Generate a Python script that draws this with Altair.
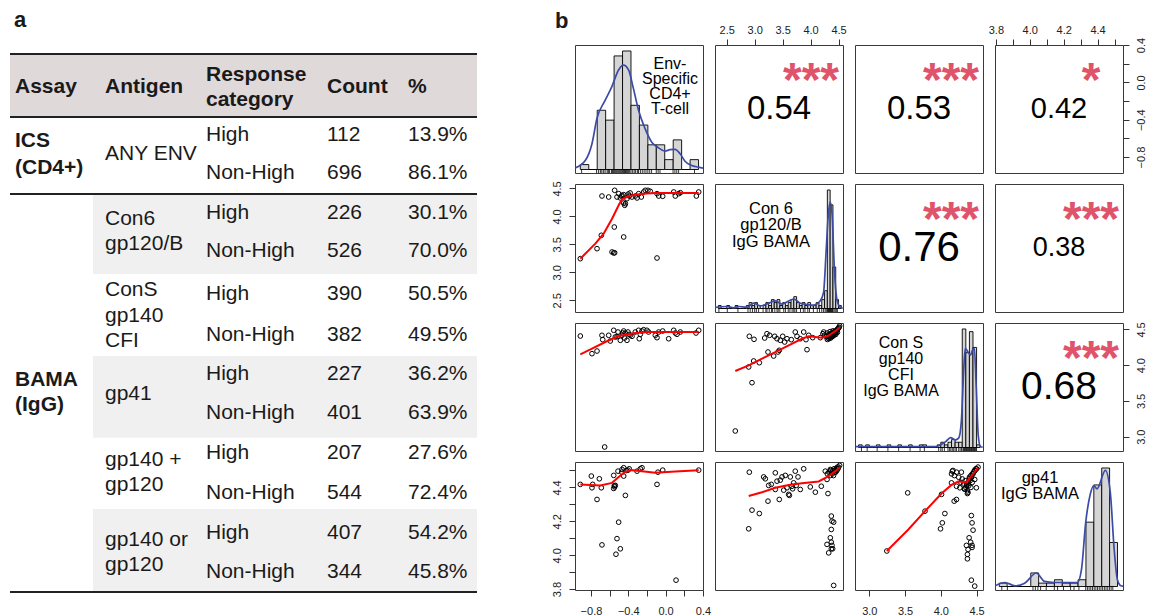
import altair as alt
import pandas as pd

FONT = "Liberation Sans"
INK = "#1a1a1a"
STAR = "#DF536B"
BLUE = "#3B4BA6"
BAR = "#D5D5D5"
FRAME = "#3a3a3a"

# ======================= panel a : table data =======================
header_lines = [["Assay"], ["Antigen"], ["Response", "category"], ["Count"], ["%"]]
assay_lines = [["ICS", "(CD4+)"], ["BAMA", "(IgG)"]]
antigen_lines = [["ANY ENV"], ["Con6", "gp120/B"], ["ConS", "gp140", "CFI"],
                 ["gp41"], ["gp140 +", "gp120"], ["gp140 or", "gp120"]]
response = ["High", "Non-High"] * 6
counts = [112, 696, 226, 526, 390, 382, 227, 401, 207, 544, 407, 344]
percents = ["13.9%", "86.1%", "30.1%", "70.0%", "50.5%", "49.5%",
            "36.2%", "63.9%", "27.6%", "72.4%", "54.2%", "45.8%"]
shaded = [False, True, False, True, False, True]

# ======================= panel b : pairs data =======================
diag_labels = [["Env-", "Specific", "CD4+", "T-cell"],
               ["Con 6", "gp120/B", "IgG BAMA"],
               ["Con S", "gp140", "CFI", "IgG BAMA"],
               ["gp41", "IgG BAMA"]]
cor_values = ["0.54", "0.53", "0.42", "0.76", "0.38", "0.68"]
cor_stars = ["***", "***", "*", "***", "***", "***"]

# histograms: bin start, bin width, counts
h1_start, h1_width = -0.914, 0.0905
h1_counts = [1, 0, 12, 10, 23, 24, 13, 9, 5, 5, 2, 6, 0, 2]
h2_start, h2_width = 2.35, 0.05
h2_counts = [1, 0, 0, 1, 0, 0, 1, 0, 0, 0, 1, 2, 1, 2, 1, 0, 1, 2, 1, 3, 2, 3,
             1, 2, 1, 2, 3, 4, 2, 1, 2, 1, 2, 1, 1, 2, 1, 3, 6, 40, 35, 14, 3, 1]
h3_start, h3_width = 2.85, 0.05
h3_counts = [1, 0, 1, 0, 0, 1, 0, 0, 1, 0, 0, 1, 0, 0, 1, 0, 0, 1, 1, 0, 0, 0,
             1, 2, 1, 2, 3, 2, 2, 45, 36, 44, 38, 1]
h4_start, h4_width = 3.82, 0.0465
h4_counts = [1, 0, 0, 0, 4, 1, 1, 2, 1, 1, 2, 19, 30, 35, 13]

# density curves (height relative to tallest bar)
d1_x = [-0.968, -0.861, -0.789, -0.736, -0.647, -0.576, -0.504, -0.451, -0.397, -0.344, -0.290,
        -0.220, -0.148, -0.077, -0.006, 0.048, 0.101, 0.155, 0.208, 0.280, 0.351, 0.401]
d1_y = [0.014, 0.076, 0.218, 0.43, 0.585, 0.70, 0.84, 0.88, 0.84, 0.68, 0.50,
        0.345, 0.23, 0.184, 0.155, 0.167, 0.17, 0.133, 0.07, 0.034, 0.02, 0.011]
d2_x = [2.29, 2.506, 2.625, 2.714, 2.863, 2.982, 3.101, 3.25, 3.369, 3.488, 3.696, 3.815,
        3.935, 4.054, 4.173, 4.232, 4.28, 4.315, 4.351, 4.387, 4.423, 4.47, 4.53, 4.575]
d2_y = [0.01, 0.017, 0.006, 0.017, 0.01, 0.045, 0.022, 0.045, 0.065, 0.037, 0.08, 0.045,
        0.034, 0.028, 0.065, 0.135, 0.5, 0.78, 0.90, 0.78, 0.36, 0.08, 0.01, 0.003]
d3_x = [2.809, 3.25, 3.705, 3.932, 3.977, 4.068, 4.136, 4.205, 4.25, 4.287, 4.319, 4.342,
        4.387, 4.415, 4.442, 4.469, 4.496, 4.523, 4.555, 4.585]
d3_y = [0.008, 0.008, 0.008, 0.008, 0.017, 0.05, 0.084, 0.065, 0.079, 0.22, 0.64, 0.837,
        0.80, 0.78, 0.82, 0.837, 0.50, 0.107, 0.006, 0.003]
d4_x = [3.796, 3.854, 3.913, 3.97, 4.039, 4.087, 4.145, 4.223, 4.281, 4.305, 4.33, 4.355,
        4.378, 4.397, 4.446, 4.475, 4.498, 4.517, 4.538, 4.55]
d4_y = [0.006, 0.034, 0.006, 0.028, 0.114, 0.043, 0.034, 0.034, 0.034, 0.142, 0.54, 0.767,
        0.852, 0.824, 0.98, 0.795, 0.312, 0.057, 0.006, 0.003]

# rugs
rug1 = [-0.90, -0.74, -0.72, -0.70, -0.69, -0.67, -0.66, -0.64, -0.62, -0.61, -0.60, -0.58,
        -0.57, -0.56, -0.55, -0.54, -0.53, -0.52, -0.51, -0.50, -0.49, -0.48, -0.47, -0.46,
        -0.45, -0.44, -0.43, -0.42, -0.41, -0.40, -0.39, -0.38, -0.36, -0.35, -0.33, -0.32,
        -0.30, -0.29, -0.27, -0.25, -0.23, -0.21, -0.19, -0.17, -0.15, -0.10, -0.08, -0.06,
        0.08, 0.10, 0.12, 0.14, 0.31]
rug2 = [2.36, 2.51, 2.70, 2.88, 2.92, 2.96, 3.00, 3.03, 3.07, 3.15, 3.20, 3.22, 3.26, 3.30,
        3.32, 3.36, 3.40, 3.42, 3.45, 3.52, 3.55, 3.60, 3.63, 3.67, 3.70, 3.72, 3.75, 3.82,
        3.87, 3.90, 3.95, 3.98, 4.05, 4.12, 4.16, 4.20, 4.23, 4.26, 4.28, 4.30, 4.31, 4.32,
        4.33, 4.34, 4.35, 4.36, 4.37, 4.38, 4.39, 4.40, 4.42, 4.44, 4.46, 4.48]
rug3 = [2.89, 2.97, 3.11, 3.26, 3.41, 3.57, 3.71, 3.77, 3.97, 4.00, 4.02, 4.05, 4.10, 4.12,
        4.14, 4.16, 4.18, 4.20, 4.22, 4.25, 4.27, 4.29, 4.31, 4.32, 4.33, 4.34, 4.35, 4.36,
        4.37, 4.38, 4.39, 4.40, 4.41, 4.42, 4.43, 4.44, 4.45, 4.46, 4.47, 4.48, 4.49, 4.50]
rug4 = [3.835, 3.868, 4.019, 4.033, 4.048, 4.064, 4.097, 4.145, 4.164, 4.199, 4.241, 4.261,
        4.29, 4.33, 4.34, 4.35, 4.36, 4.37, 4.38, 4.39, 4.40, 4.41, 4.42, 4.43, 4.44, 4.45,
        4.46, 4.47, 4.48, 4.49]

# scatter panels (x = column variable, y = row variable) and red smoothers
s21_x = [-0.914, -0.735, -0.682, -0.689, -0.610, -0.574, -0.556, -0.546, -0.550, -0.546, -0.521,
         -0.503, -0.485, -0.467, -0.449, -0.449, -0.438, -0.431, -0.414, -0.389, -0.360, -0.325,
         -0.306, -0.289, -0.260, -0.235, -0.218, -0.189, -0.164, -0.092, -0.074, -0.092, -0.031,
         0.087, 0.104, 0.140, 0.158, 0.330, 0.355, -0.45, -0.40, -0.38, -0.47]
s21_y = [3.244, 3.423, 4.365, 3.662, 4.347, 3.364, 3.346, 3.350, 3.810, 4.467, 4.347,
         4.407, 4.330, 4.378, 4.389, 3.632, 4.199, 4.228, 4.317, 4.365, 4.347, 4.365,
         4.330, 4.407, 4.347, 4.437, 4.467, 4.467, 4.449, 4.407, 4.365, 3.256, 4.360,
         4.437, 4.365, 4.407, 4.424, 4.365, 4.437, 4.24, 4.40, 4.42, 4.36]
l21_x = [-0.914, -0.753, -0.664, -0.574, -0.503, -0.467, -0.396, -0.253, -0.110, 0.104, 0.355]
l21_y = [3.244, 3.512, 3.691, 3.959, 4.199, 4.306, 4.365, 4.407, 4.419, 4.419, 4.419]

s31_x = [-0.914, -0.789, -0.735, -0.682, -0.674, -0.610, -0.593, -0.556, -0.539, -0.510, -0.485,
         -0.467, -0.449, -0.432, -0.414, -0.403, -0.378, -0.360, -0.325, -0.289, -0.282, -0.271,
         -0.253, -0.235, -0.200, -0.182, -0.110, -0.092, -0.074, -0.031, 0.033, 0.087, 0.104,
         0.122, 0.158, 0.326, 0.355, -0.653, -0.52, -0.46, -0.44, -0.39]
s31_y = [4.408, 4.161, 4.198, 4.418, 4.357, 4.418, 4.338, 4.488, 4.394, 4.464, 4.348,
         4.418, 4.478, 4.450, 4.348, 4.464, 4.418, 4.404, 4.464, 4.488, 4.370, 4.432,
         4.478, 4.496, 4.488, 4.464, 4.418, 4.385, 4.464, 4.478, 4.370, 4.488, 4.450,
         4.432, 4.464, 4.450, 4.488, 2.856, 4.40, 4.45, 4.38, 4.43]
l31_x = [-0.914, -0.789, -0.646, -0.503, -0.325, -0.182, 0.104, 0.355]
l31_y = [4.152, 4.231, 4.324, 4.408, 4.450, 4.464, 4.464, 4.464]

s32_x = [2.653, 2.952, 2.893, 2.982, 3.083, 2.904, 2.988, 3.179, 3.220, 3.268, 3.238, 3.358,
         3.340, 3.417, 3.440, 3.399, 3.458, 3.501, 3.537, 3.578, 3.655, 3.726, 3.757, 3.816,
         3.877, 3.918, 3.936, 3.966, 4.038, 4.174, 4.235,
         4.22, 4.25, 4.28, 4.30, 4.31, 4.32, 4.33, 4.34, 4.35, 4.36, 4.37, 4.38, 4.39, 4.40,
         4.41, 4.42, 4.43, 4.44, 4.45, 4.46, 4.47, 4.48, 4.49, 4.50, 4.51, 4.52, 4.30, 4.33,
         4.36, 4.39, 4.42, 4.45, 4.48, 4.35, 4.40]
s32_y = [3.080, 3.755, 3.975, 4.059, 4.035, 4.404, 4.362, 4.380, 4.440, 4.418, 4.184, 4.404,
         4.128, 4.184, 4.208, 4.370, 4.348, 4.404, 4.324, 4.370, 4.357, 4.464, 4.404, 4.370,
         4.464, 4.357, 4.217, 4.418, 4.385, 4.385, 4.464,
         4.44, 4.42, 4.40, 4.45, 4.38, 4.41, 4.43, 4.39, 4.42, 4.44, 4.40, 4.43, 4.45, 4.41,
         4.46, 4.44, 4.47, 4.45, 4.48, 4.46, 4.49, 4.50, 4.51, 4.52, 4.53, 4.55, 4.36, 4.37,
         4.38, 4.40, 4.42, 4.43, 4.46, 4.47, 4.48]
l32_x = [2.653, 2.893, 3.131, 3.369, 3.608, 3.846, 3.966, 4.204, 4.324, 4.442, 4.532]
l32_y = [3.919, 3.998, 4.091, 4.184, 4.278, 4.370, 4.404, 4.385, 4.413, 4.478, 4.534]

s41_x = [-0.914, -0.796, -0.789, -0.781, -0.735, -0.710, -0.689, -0.682, -0.556, -0.556, -0.546,
         -0.539, -0.532, -0.521, -0.510, -0.503, -0.485, -0.467, -0.449, -0.449, -0.431, -0.403,
         -0.306, -0.271, -0.253, -0.092, -0.082, -0.031, 0.112, 0.355, -0.55, -0.47, -0.42, -0.39]
s41_y = [4.418, 4.467, 4.398, 4.418, 4.329, 4.451, 4.398, 4.061, 4.471, 4.394, 4.403,
         4.412, 4.006, 4.098, 4.496, 4.195, 4.038, 4.506, 4.516, 4.467, 4.353, 4.502,
         4.496, 4.510, 4.516, 4.418, 4.490, 4.502, 3.853, 4.502, 4.41, 4.49, 4.50, 4.51]
l41_x = [-0.914, -0.700, -0.574, -0.503, -0.439, -0.368, -0.253, -0.110, 0.104, 0.355]
l41_y = [4.418, 4.412, 4.427, 4.462, 4.490, 4.502, 4.496, 4.486, 4.494, 4.502]

s42_x = [2.893, 2.904, 2.952, 3.083, 3.161, 3.190, 3.238, 3.250, 3.297, 3.369, 3.369, 3.399,
         3.440, 3.458, 3.489, 3.519, 3.548, 3.578, 3.608, 3.620, 3.637, 3.667, 3.679, 3.697,
         3.726, 3.744, 3.775, 3.816, 3.877, 3.995, 4.085, 4.192, 4.263, 4.294, 4.311, 4.353,
         4.371, 4.383, 4.413, 4.371, 4.353, 4.371, 4.294, 4.383, 4.395, 4.324, 4.413, 4.371,
         4.30, 4.33, 4.36, 4.38, 4.40, 4.42, 4.44, 4.46, 4.48, 4.50, 4.52, 4.35, 4.39, 4.43,
         4.47, 4.41, 4.45, 4.49]
s42_y = [4.156, 4.490, 4.266, 4.246, 4.462, 4.451, 4.319, 4.412, 4.418, 4.486, 4.388, 4.437,
         4.329, 4.443, 4.462, 4.384, 4.471, 4.398, 4.359, 4.353, 4.462, 4.407, 4.392, 4.427,
         4.496, 4.412, 4.462, 4.388, 4.510, 4.403, 4.372, 4.407, 4.496, 4.447, 4.364, 4.506,
         4.231, 4.201, 4.195, 4.152, 4.103, 4.077, 4.064, 4.058, 4.038, 4.014, 3.822, 4.038,
         4.48, 4.49, 4.50, 4.49, 4.50, 4.51, 4.50, 4.51, 4.52, 4.52, 4.53, 4.47, 4.48, 4.49,
         4.50, 4.47, 4.49, 4.51]
l42_x = [2.893, 3.131, 3.369, 3.608, 3.846, 4.145, 4.324, 4.442, 4.532]
l42_y = [4.349, 4.372, 4.398, 4.414, 4.424, 4.435, 4.467, 4.496, 4.521]

s43_x = [3.245, 3.537, 3.779, 4.010, 4.057, 4.021, 3.996, 4.160, 4.187, 4.219, 4.149, 4.219,
         4.266, 4.288, 4.335, 4.372, 4.427, 4.437, 4.451, 4.396, 4.418, 4.358, 4.437, 4.381,
         4.372, 4.437, 4.372, 4.427, 4.474, 4.474, 4.497,
         4.15, 4.17, 4.19, 4.22, 4.25, 4.28, 4.30, 4.32, 4.34, 4.36, 4.38, 4.40, 4.42, 4.44,
         4.46, 4.48, 4.50, 4.52, 4.35, 4.37, 4.39, 4.41, 4.43, 4.45, 4.47, 4.49, 4.33, 4.36,
         4.40, 4.44, 4.38, 4.42]
s43_y = [4.025, 4.368, 4.260, 4.359, 4.246, 4.191, 4.156, 4.496, 4.319, 4.329, 4.427, 4.407,
         4.398, 4.490, 4.392, 4.364, 4.234, 4.191, 4.148, 4.103, 4.077, 4.058, 4.058, 4.034,
         4.005, 4.046, 3.979, 3.853, 3.818, 4.447, 4.398,
         4.48, 4.50, 4.47, 4.49, 4.46, 4.43, 4.45, 4.42, 4.44, 4.41, 4.43, 4.45, 4.47, 4.48,
         4.49, 4.50, 4.51, 4.52, 4.40, 4.38, 4.41, 4.44, 4.46, 4.48, 4.50, 4.51, 4.39, 4.42,
         4.46, 4.43, 4.37, 4.40]
l43_x = [3.245, 3.546, 3.779, 4.010, 4.149, 4.242, 4.358, 4.427, 4.520]
l43_y = [4.025, 4.152, 4.260, 4.364, 4.415, 4.435, 4.431, 4.467, 4.516]

# ======================= layout / style =======================
DOM = {"v1": [-0.971, 0.401], "v2": [2.29, 4.58], "v3": [2.80, 4.59], "v4": [3.795, 4.55]}
TICKS = {"v1": ([-0.8, -0.6, -0.4, -0.2, 0.0, 0.2, 0.4], [-0.8, -0.4, 0.0, 0.4]),
         "v2": ([2.5, 3.0, 3.5, 4.0, 4.5], [2.5, 3.0, 3.5, 4.0, 4.5]),
         "v3": ([3.0, 3.5, 4.0, 4.5], [3.0, 3.5, 4.0, 4.5]),
         "v4": ([3.8, 3.9, 4.0, 4.1, 4.2, 4.3, 4.4, 4.5], [3.8, 4.0, 4.2, 4.4])}
PW = PH = 128
HEAD_H = 24
HIST_DOM = [-0.0295, 1.0506]
COR_SIZE = [33, 33, 29, 42, 27, 39]
# (centre x, first baseline, line step, font size) for each diagonal label
LABEL_POS = [(95, 23.5, 15, 16), (56, 29.5, 16.7, 16.5), (46, 24.5, 16.2, 16), (45, 20.5, 16.7, 16.5)]
PANEL_VIEW = alt.ViewBackground(stroke=FRAME, strokeWidth=1)
NO_VIEW = alt.ViewBackground(stroke="transparent")


def lin(dom):
    return alt.Scale(domain=dom, nice=False, zero=False)


def make_axis(var, orient):
    ticks, labels = TICKS[var]
    keys = [int(round(v * 100)) for v in labels]
    expr = f"indexof({keys}, round(datum.value * 100)) >= 0 ? format(datum.value, '.1f') : ''"
    kw = dict(orient=orient, values=ticks, labelExpr=expr, tickSize=6, tickColor="#333",
              tickWidth=1, domain=False, grid=False, labelFontSize=11, labelColor="#222",
              labelFlush=False, labelOverlap=False, title=None)
    if orient == "top":
        kw.update(labelAngle=0, labelPadding=4)
    elif orient == "bottom":
        kw.update(labelAngle=0, labelPadding=9)
    elif orient == "left":
        kw.update(labelAngle=270, labelAlign="center", labelBaseline="bottom", labelPadding=7)
    else:
        kw.update(labelAngle=270, labelAlign="center", labelBaseline="top", labelPadding=6)
    return alt.Axis(**kw)


def panel(layers):
    return alt.layer(*layers).properties(width=PW, height=PH, view=PANEL_VIEW)


def scatter(xs, ys, lx, ly, xv, yv, xaxis=None, yaxis=None):
    ex = alt.X("x:Q", scale=lin(DOM[xv]), axis=xaxis, title=None)
    ey = alt.Y("y:Q", scale=lin(DOM[yv]), axis=yaxis, title=None)
    pts = alt.Chart(pd.DataFrame({"x": xs, "y": ys})).mark_point(
        shape="circle", filled=False, size=22, strokeWidth=1.0, color="black", opacity=1
    ).encode(x=ex, y=ey)
    fit = alt.Chart(pd.DataFrame({"x": lx, "y": ly})).mark_line(
        color="red", strokeWidth=2
    ).encode(x=ex, y=ey)
    return panel([pts, fit])


def diag(k, var, start, width, cnts, dx, dy, rug):
    mx = max(cnts)
    bars = pd.DataFrame({"x0": [start + i * width for i in range(len(cnts))],
                         "x1": [start + (i + 1) * width for i in range(len(cnts))],
                         "h": [c / mx for c in cnts], "b": [0.0] * len(cnts)})
    sx = lin(DOM[var])
    sy = alt.Scale(domain=HIST_DOM, nice=False, zero=False)
    layers = [
        alt.Chart(bars).mark_rect(fill=BAR, stroke="black", strokeWidth=0.9).encode(
            x=alt.X("x0:Q", scale=sx, axis=None), x2="x1:Q",
            y=alt.Y("b:Q", scale=sy, axis=None), y2="h:Q"),
        alt.Chart(pd.DataFrame({"x0": dx, "b": dy})).mark_line(
            color=BLUE, strokeWidth=1.7, interpolate="monotone", clip=True).encode(
            x=alt.X("x0:Q", scale=sx, axis=None), y=alt.Y("b:Q", scale=sy, axis=None)),
        alt.Chart(pd.DataFrame({"x0": rug})).mark_rule(color="black", strokeWidth=0.8).encode(
            x=alt.X("x0:Q", scale=sx, axis=None), y=alt.value(PH), y2=alt.value(PH - 4)),
    ]
    cx, y0, lh, fs = LABEL_POS[k]
    for i, t in enumerate(diag_labels[k]):
        layers.append(alt.Chart(pd.DataFrame({"t": [t]})).mark_text(
            fontSize=fs, color="black", align="center", baseline="alphabetic").encode(
            x=alt.value(cx), y=alt.value(y0 + i * lh), text="t:N"))
    return panel(layers)


def cor(k, xv=None, yv=None, xaxis=None, yaxis=None):
    layers = []
    if xaxis is not None or yaxis is not None:
        d = pd.DataFrame({"x": DOM[xv], "y": DOM[yv]})
        layers.append(alt.Chart(d).mark_point(opacity=0).encode(
            x=alt.X("x:Q", scale=lin(DOM[xv]), axis=xaxis, title=None),
            y=alt.Y("y:Q", scale=lin(DOM[yv]), axis=yaxis, title=None)))
    layers.append(alt.Chart(pd.DataFrame({"t": [cor_values[k]]})).mark_text(
        fontSize=COR_SIZE[k], color="black", align="center", baseline="middle").encode(
        x=alt.value(PW / 2), y=alt.value(PH / 2), text="t:N"))
    layers.append(alt.Chart(pd.DataFrame({"t": [cor_stars[k]]})).mark_text(
        fontSize=48, fontWeight="bold", color=STAR, align="center", baseline="alphabetic").encode(
        x=alt.value(96), y=alt.value(51), text="t:N"))
    return panel(layers)


def header_cell(label=None):
    t = [label] if label else [""]
    return alt.Chart(pd.DataFrame({"t": t})).mark_text(
        fontSize=22, fontWeight="bold", color=INK, align="left", baseline="alphabetic").encode(
        x=alt.value(-20), y=alt.value(18), text="t:N"
    ).properties(width=PW, height=HEAD_H, view=NO_VIEW)


# ---- table chart ----
O = 8
COL_X = [13, 103, 204, 325, 406]
ROW_Y = [132.5, 171, 210.7, 249.3, 292.3, 333.3, 371.7, 410.7, 451.3, 490.7, 530.7, 570]
ANTIGEN_Y = [[152.3], [217.3, 242.3], [288.3, 314, 339.3], [391.7], [458.3, 483.3], [538.3, 563.3]]
ASSAY_Y = [[139.3, 165.7], [378.3, 403.3]]
GROUP_Y = [(115, 192), (192, 272), (272, 354), (354, 435.7), (435.7, 507), (507, 589)]
RULE_Y = [52, 115, 192, 590]

bold_cells, reg_cells = [], []
for ci, lines in enumerate(header_lines):
    ys = [85] if len(lines) == 1 else [72.7, 98.3]
    for t, y in zip(lines, ys):
        bold_cells.append({"t": t, "x": COL_X[ci] - O, "y": y - O})
for ai, lines in enumerate(assay_lines):
    for t, y in zip(lines, ASSAY_Y[ai]):
        bold_cells.append({"t": t, "x": COL_X[0] - O, "y": y - O})
for gi, lines in enumerate(antigen_lines):
    for t, y in zip(lines, ANTIGEN_Y[gi]):
        reg_cells.append({"t": t, "x": COL_X[1] - O, "y": y - O})
for i in range(len(response)):
    y = ROW_Y[i] - O
    reg_cells.append({"t": response[i], "x": COL_X[2] - O, "y": y})
    reg_cells.append({"t": str(counts[i]), "x": COL_X[3] - O, "y": y})
    reg_cells.append({"t": percents[i], "x": COL_X[4] - O, "y": y})

bands = [{"x0": 0, "x1": 475 - O, "y0": 52 - O, "y1": 115 - O, "f": "#E0D9DA"}]
for gi, sh in enumerate(shaded):
    if sh:
        bands.append({"x0": 91 - O, "x1": 475 - O, "y0": GROUP_Y[gi][0] - O,
                      "y1": GROUP_Y[gi][1] - O, "f": "#F0F0F0"})
rules = pd.DataFrame({"x0": [0] * 4, "x1": [475 - O] * 4, "y": [r - O for r in RULE_Y]})

PX = dict(scale=None, axis=None)
t_bands = alt.Chart(pd.DataFrame(bands)).mark_rect().encode(
    x=alt.X("x0:Q", **PX), x2="x1:Q", y=alt.Y("y0:Q", **PX), y2="y1:Q",
    color=alt.Color("f:N", scale=None))
t_rules = alt.Chart(rules).mark_rule(color="#222", strokeWidth=2).encode(
    x=alt.X("x0:Q", **PX), x2="x1:Q", y=alt.Y("y:Q", **PX))
t_reg = alt.Chart(pd.DataFrame(reg_cells)).mark_text(
    fontSize=21, color=INK, align="left", baseline="middle").encode(
    x=alt.X("x:Q", **PX), y=alt.Y("y:Q", **PX), text="t:N")
t_bold = alt.Chart(pd.DataFrame(bold_cells)).mark_text(
    fontSize=21, fontWeight="bold", color=INK, align="left", baseline="middle").encode(
    x=alt.X("x:Q", **PX), y=alt.Y("y:Q", **PX), text="t:N")
t_a = alt.Chart(pd.DataFrame({"t": ["a"]})).mark_text(
    fontSize=22, fontWeight="bold", color=INK, align="left", baseline="alphabetic").encode(
    x=alt.value(4), y=alt.value(17), text="t:N")
table = alt.layer(t_bands, t_rules, t_reg, t_bold, t_a).properties(
    width=470, height=592, view=NO_VIEW)

# ---- pairs grid (one flat 4-column concat) ----
cells = [
    header_cell("b"), header_cell(), header_cell(), header_cell(),
    diag(0, "v1", h1_start, h1_width, h1_counts, d1_x, d1_y, rug1),
    cor(0, "v2", "v1", xaxis=make_axis("v2", "top"), yaxis=None),
    cor(1),
    cor(2, "v4", "v1", xaxis=make_axis("v4", "top"), yaxis=make_axis("v1", "right")),
    scatter(s21_x, s21_y, l21_x, l21_y, "v1", "v2", yaxis=make_axis("v2", "left")),
    diag(1, "v2", h2_start, h2_width, h2_counts, d2_x, d2_y, rug2),
    cor(3), cor(4),
    scatter(s31_x, s31_y, l31_x, l31_y, "v1", "v3"),
    scatter(s32_x, s32_y, l32_x, l32_y, "v2", "v3"),
    diag(2, "v3", h3_start, h3_width, h3_counts, d3_x, d3_y, rug3),
    cor(5, "v4", "v3", xaxis=None, yaxis=make_axis("v3", "right")),
    scatter(s41_x, s41_y, l41_x, l41_y, "v1", "v4",
            xaxis=make_axis("v1", "bottom"), yaxis=make_axis("v4", "left")),
    scatter(s42_x, s42_y, l42_x, l42_y, "v2", "v4"),
    scatter(s43_x, s43_y, l43_x, l43_y, "v3", "v4", xaxis=make_axis("v3", "bottom")),
    diag(3, "v4", h4_start, h4_width, h4_counts, d4_x, d4_y, rug4),
]
grid = alt.concat(*cells, columns=4, spacing={"row": 11, "column": 12}, bounds="flush")

chart = alt.hconcat(table, grid, spacing=95, bounds="flush").properties(
    padding=0
).configure(font=FONT).configure_view(stroke="transparent")

chart.save("out.html", embed_options={"renderer": "svg", "actions": False})
